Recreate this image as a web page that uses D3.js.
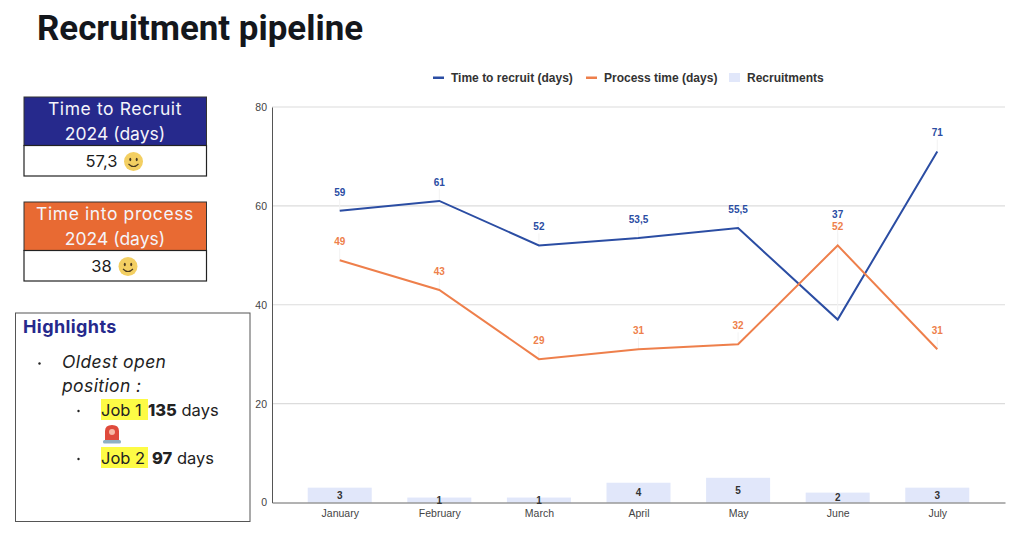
<!DOCTYPE html>
<html>
<head>
<meta charset="utf-8">
<script src="https://cdn.jsdelivr.net/npm/d3@7"></script>
<style>
    html, body { margin: 0; padding: 0; background: #fff; }
    svg { display: block; }
    .ui text { font-family: Inter, "Open Sans", sans-serif; }
    .chart text { font-family: "Liberation Sans", Arial, sans-serif; }
</style>
</head>
<body>
<svg width="1024" height="534"></svg>
<script>
const months = ["January", "February", "March", "April", "May", "June", "July"];
const timeToRecruit = [59, 61, 52, 53.5, 55.5, 37, 71];
const processTime = [49, 43, 29, 31, 32, 52, 31];
const recruitments = [3, 1, 1, 4, 5, 2, 3];
const yTicks = [0, 20, 40, 60, 80];
const legendLabels = ["Time to recruit (days)", "Process time (days)", "Recruitments"];

const blue = "#2b4da3";
const orange = "#ee7f4b";
const barColor = "#e1e7fa";
const navy = "#26298c";

const svg = d3.select("svg");
const chart = svg.append("g").attr("class", "chart");
const ui = svg.append("g").attr("class", "ui");

const x = d3.scalePoint().domain(months).range([272, 1005]).padding(0.68);
const y = d3.scaleLinear().domain([0, 80]).range([502.5, 107]);
const fmt = v => String(v).replace(".", ",");

// gridlines
chart.selectAll(".grid")
    .data(yTicks.filter(d => d > 0))
    .enter()
    .append("line")
    .attr("class", "grid")
    .attr("x1", 272)
    .attr("x2", 1005)
    .attr("y1", d => y(d))
    .attr("y2", d => y(d))
    .attr("stroke", "#dcdcdc")
    .attr("stroke-width", 1.2);

// bars
chart.selectAll(".bar")
    .data(recruitments)
    .enter()
    .append("rect")
    .attr("class", "bar")
    .attr("x", (d, i) => x(months[i]) - 32)
    .attr("y", d => y(d))
    .attr("width", 64)
    .attr("height", d => y(0) - y(d))
    .attr("fill", barColor);

// axes
const yAxis = chart.append("g")
    .attr("transform", "translate(272,0)")
    .call(d3.axisLeft(y).tickValues(yTicks).tickSize(0).tickPadding(5));
yAxis.select(".domain").attr("stroke", "#555").attr("stroke-width", 1);
yAxis.selectAll("text").attr("font-size", 10.5).attr("fill", "#444");

const xAxis = chart.append("g")
    .attr("transform", `translate(0,${y(0)})`)
    .call(d3.axisBottom(x).tickSize(0).tickPadding(7.5));
xAxis.select(".domain").attr("stroke", "#666").attr("stroke-width", 1);
xAxis.selectAll("text").attr("font-size", 10.5).attr("fill", "#444");

// bar labels
chart.selectAll(".barLabel")
    .data(recruitments)
    .enter()
    .append("text")
    .attr("class", "barLabel")
    .attr("x", (d, i) => x(months[i]))
    .attr("y", d => (y(d) + y(0)) / 2 + 3.5)
    .attr("text-anchor", "middle")
    .attr("font-size", 10)
    .attr("font-weight", "bold")
    .attr("fill", "#333")
    .text(d => d);

const line = d3.line().x((d, i) => x(months[i])).y(d => y(d));

function drawSeries(values, color, labelY) {
    // thin leader lines from point to label
    chart.selectAll(null)
        .data(values)
        .enter()
        .append("line")
        .attr("x1", (d, i) => x(months[i]))
        .attr("x2", (d, i) => x(months[i]))
        .attr("y1", d => y(d))
        .attr("y2", (d, i) => labelY(d, i) + 3)
        .attr("stroke", "#f3f3f3");
    chart.append("path")
        .datum(values)
        .attr("d", line)
        .attr("fill", "none")
        .attr("stroke", color)
        .attr("stroke-width", 2);
    chart.selectAll(null)
        .data(values)
        .enter()
        .append("text")
        .attr("x", (d, i) => x(months[i]))
        .attr("y", labelY)
        .attr("text-anchor", "middle")
        .attr("font-size", 10)
        .attr("font-weight", "bold")
        .attr("fill", color)
        .text(fmt);
}

// labels sit 15px above the point; June's recruit label is stacked over the process one
drawSeries(timeToRecruit, blue, (d, i) => i === 5 ? y(processTime[5]) - 27 : y(d) - 15);
drawSeries(processTime, orange, d => y(d) - 15);

// legend
const legendX = [433, 586, 729];
const legendColors = [blue, orange, barColor];
legendLabels.forEach((label, i) => {
    if (i < 2) {
        chart.append("rect").attr("x", legendX[i]).attr("y", 76.5).attr("width", 11).attr("height", 2.5).attr("fill", legendColors[i]);
    } else {
        chart.append("rect").attr("x", legendX[i]).attr("y", 73).attr("width", 11).attr("height", 9).attr("fill", legendColors[i]);
    }
    chart.append("text")
        .attr("x", legendX[i] + 18)
        .attr("y", 82)
        .attr("font-size", 12)
        .attr("font-weight", "bold")
        .attr("fill", "#333")
        .text(label);
});

// title
svg.append("text")
    .attr("x", 37)
    .attr("y", 40)
    .attr("font-family", "Roboto, sans-serif")
    .attr("font-weight", 700)
    .attr("font-size", 34.9)
    .attr("fill", "#14171c")
    .text("Recruitment pipeline");

function smiley(cx, cy) {
    const g = ui.append("g").attr("transform", `translate(${cx},${cy})`);
    g.append("circle").attr("r", 9.5).attr("fill", "#f3cf62");
    g.append("ellipse").attr("cx", -3.2).attr("cy", -2).attr("rx", 1).attr("ry", 1.8).attr("fill", "#4a3a20");
    g.append("ellipse").attr("cx", 3.2).attr("cy", -2).attr("rx", 1).attr("ry", 1.8).attr("fill", "#4a3a20");
    g.append("path").attr("d", "M-5,2.5 Q0,7.5 5,2.5").attr("fill", "none").attr("stroke", "#4a3a20").attr("stroke-width", 1.1);
}

// KPI cards
function card(top, color, lines, value, valueX, smileX) {
    ui.append("rect").attr("x", 24).attr("y", top).attr("width", 182.5).attr("height", 48.5)
        .attr("fill", color).attr("stroke", "#333").attr("stroke-width", 1);
    ui.append("rect").attr("x", 24).attr("y", top + 48.5).attr("width", 182.5).attr("height", 30.5)
        .attr("fill", "#fff").attr("stroke", "#222").attr("stroke-width", 1.2);
    lines.forEach((t, i) => {
        ui.append("text")
            .attr("x", 115)
            .attr("y", top + 18 + i * 24.5)
            .attr("text-anchor", "middle")
            .attr("font-size", 17.5)
            .attr("letter-spacing", i === 0 ? 0.6 : 0)
            .attr("fill", "#f4f4fa")
            .text(t);
    });
    ui.append("text")
        .attr("x", valueX)
        .attr("y", top + 70)
        .attr("text-anchor", "middle")
        .attr("font-size", 16.5)
        .attr("fill", "#1c1c1c")
        .text(value);
    smiley(smileX, top + 64.5);
}

card(97, navy, ["Time to Recruit", "2024 (days)"], "57,3", 101.5, 133.5);
card(202, "#e86a33", ["Time into process", "2024 (days)"], "38", 101.5, 128);

// highlights box
ui.append("rect").attr("x", 15.5).attr("y", 313).attr("width", 234.5).attr("height", 208.5)
    .attr("fill", "#fff").attr("stroke", "#555").attr("stroke-width", 1);
ui.append("text").attr("x", 23).attr("y", 333).attr("font-size", 18).attr("font-weight", 700)
    .attr("letter-spacing", 0.4).attr("fill", navy).text("Highlights");

ui.append("circle").attr("cx", 39.5).attr("cy", 363.5).attr("r", 1.2).attr("fill", "#222");
ui.append("text").attr("x", 62).attr("y", 368).attr("font-size", 17.5).attr("font-style", "italic")
    .attr("letter-spacing", 0.4).attr("fill", "#222").text("Oldest open");
ui.append("text").attr("x", 62).attr("y", 392).attr("font-size", 17.5).attr("font-style", "italic")
    .attr("letter-spacing", 0.4).attr("fill", "#222").text("position :");

function jobRow(baseline, job, days, daysX) {
    ui.append("circle").attr("cx", 78.5).attr("cy", baseline - 5).attr("r", 1.2).attr("fill", "#222");
    ui.append("rect").attr("x", 101).attr("y", baseline - 17).attr("width", 47).attr("height", 21).attr("fill", "#fdfb45");
    ui.append("text").attr("x", 101).attr("y", baseline).attr("font-size", 16.5).attr("fill", "#222").text(job);
    const t = ui.append("text").attr("x", daysX).attr("y", baseline).attr("font-size", 16.5).attr("fill", "#222");
    t.append("tspan").attr("font-weight", 800).text(days);
    t.append("tspan").text(" days");
}
jobRow(416, "Job 1", "135", 148);
jobRow(464, "Job 2", "97", 152);

// siren icon
const siren = ui.append("g").attr("transform", "translate(112,434)");
siren.append("path").attr("d", "M-7,6 L-7,-3 Q-7,-9 0,-9 Q7,-9 7,-3 L7,6 Z").attr("fill", "#df4a3c");
siren.append("circle").attr("cy", -2).attr("r", 3).attr("fill", "#f7b7a5");
siren.append("rect").attr("x", -9).attr("y", 6).attr("width", 18).attr("height", 3.5).attr("rx", 1.5).attr("fill", "#8fb0c4");
</script>
</body>
</html>
